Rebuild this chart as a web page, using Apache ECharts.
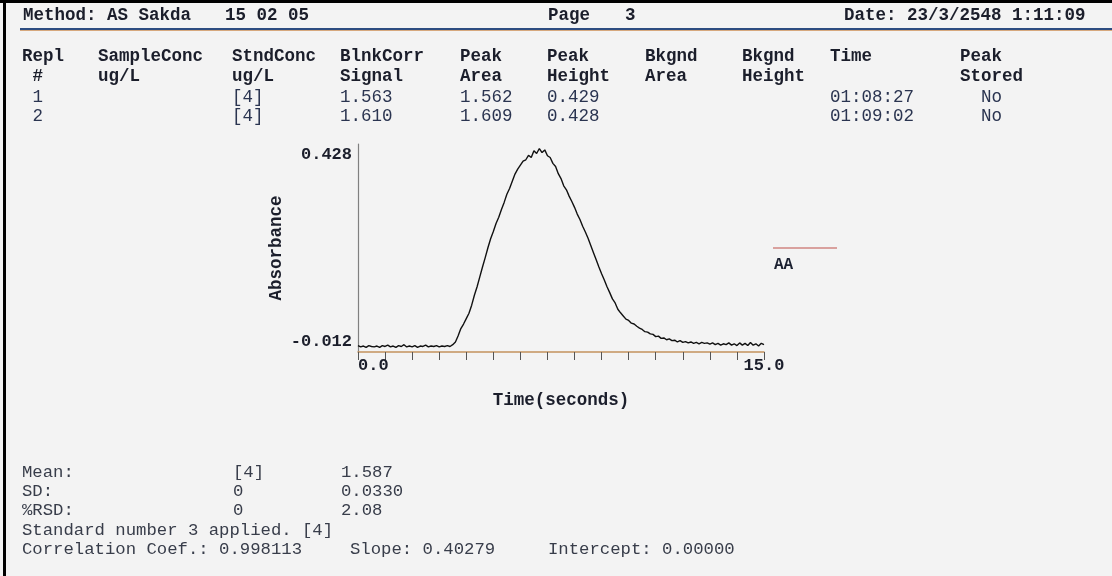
<!DOCTYPE html>
<html>
<head>
<meta charset="utf-8">
<script src="https://cdn.jsdelivr.net/npm/echarts@6/dist/echarts.min.js"></script>
<style>
html,body{margin:0;padding:0;background:#f3f3f3;}
#chart{width:1112px;height:576px;}
</style>
</head>
<body>
<div id="chart"></div>
<script>
// ---- data ----
const headerTexts = ['Method: AS Sakda', '15 02 05', 'Page', '3', 'Date: 23/3/2548 1:11:09'];
const tableHead1 = ['Repl', 'SampleConc', 'StndConc', 'BlnkCorr', 'Peak', 'Peak', 'Bkgnd', 'Bkgnd', 'Time', 'Peak'];
const tableHead2 = [' #', 'ug/L', 'ug/L', 'Signal', 'Area', 'Height', 'Area', 'Height', '', 'Stored'];
const replicate1 = [' 1', '', '[4]', '1.563', '1.562', '0.429', '', '', '01:08:27', '  No'];
const replicate2 = [' 2', '', '[4]', '1.610', '1.609', '0.428', '', '', '01:09:02', '  No'];
const statLabels = ['Mean:', 'SD:', '%RSD:'];
const statStnd = ['[4]', '0', '0'];
const statSignal = ['1.587', '0.0330', '2.08'];
const footerLine1 = 'Standard number 3 applied. [4]';
const footerLine2 = ['Correlation Coef.: 0.998113', 'Slope: 0.40279', 'Intercept: 0.00000'];

const yTickLabels = [-0.012, 0.428];
const xTickLabels = [0, 15];
const seriesName = 'AA';
const sampleStep = 0.1; // seconds between readings
const absorbance = [
 -0.010,-0.013,-0.011,-0.014,-0.010,-0.012,-0.013,-0.011,-0.014,-0.010,
 -0.012,-0.009,-0.013,-0.011,-0.014,-0.010,-0.012,-0.008,-0.013,-0.011,
 -0.013,-0.010,-0.014,-0.011,-0.012,-0.009,-0.013,-0.011,-0.012,-0.010,
 -0.013,-0.011,-0.012,-0.010,-0.012,-0.008,-0.002, 0.012, 0.028, 0.038,
  0.050, 0.062, 0.080, 0.102, 0.121, 0.143, 0.165, 0.186, 0.208, 0.228,
  0.244, 0.262, 0.276, 0.293, 0.309, 0.327, 0.340, 0.356, 0.372, 0.383,
  0.392, 0.401, 0.404, 0.414, 0.409, 0.424, 0.418, 0.429, 0.420, 0.426,
  0.413, 0.409, 0.396, 0.389, 0.373, 0.362, 0.346, 0.337, 0.323, 0.311,
  0.298, 0.283, 0.271, 0.256, 0.243, 0.229, 0.213, 0.197, 0.181, 0.165,
  0.150, 0.136, 0.121, 0.108, 0.094, 0.085, 0.071, 0.063, 0.056, 0.049,
  0.046, 0.040, 0.038, 0.033, 0.029, 0.026, 0.021, 0.020, 0.016, 0.015,
  0.010, 0.011, 0.006, 0.007, 0.003, 0.005, 0.001, 0.002,-0.002, 0.001,
 -0.003,-0.001,-0.004,-0.002,-0.005,-0.003,-0.006,-0.003,-0.005,-0.004,
 -0.007,-0.004,-0.008,-0.005,-0.009,-0.006,-0.008,-0.004,-0.009,-0.006,
 -0.010,-0.004,-0.009,-0.005,-0.010,-0.003,-0.009,-0.006,-0.011,-0.005,
 -0.008
];

// ---- layout / styles ----
const MONO = '"Liberation Mono", "DejaVu Sans Mono", monospace';
const BOLD = 'bold 17.5px ' + MONO;
const REG = '17.5px ' + MONO;
const REG_FOOT = '17.3px ' + MONO;
const INK = '#1b1e2b';
const INK_DATA = '#2a3450';
const INK_FOOT = '#383d4a';

const headerX = [23, 225, 548, 625, 844];
const colX = [22, 98, 232, 340, 460, 547, 645, 742, 830, 960];
const rowY = [57, 77, 97, 116];
const statY = [472, 491, 510];
const statX = [22, 233, 341];

const seriesData = absorbance.map((v, i) => [+(i * sampleStep).toFixed(1), v]);

function txt(x, y, s, font, fill) {
  return { type: 'text', x: x, y: y, silent: true,
    style: { text: s, font: font, fill: fill, verticalAlign: 'middle', align: 'left' } };
}

const graphics = [];
// page frame
graphics.push({ type: 'rect', shape: { x: 0, y: 0, width: 1112, height: 3 }, style: { fill: '#000' } });
graphics.push({ type: 'rect', shape: { x: 3, y: 0, width: 3, height: 576 }, style: { fill: '#000' } });
// header underline
graphics.push({ type: 'line', shape: { x1: 20, y1: 29, x2: 1112, y2: 29 }, style: { stroke: '#2d4c80', lineWidth: 2 } });
graphics.push({ type: 'line', shape: { x1: 20, y1: 30.5, x2: 1112, y2: 30.5 }, style: { stroke: '#c9874a', lineWidth: 1, opacity: 0.7 } });
headerTexts.forEach((s, i) => graphics.push(txt(headerX[i], 16, s, BOLD, INK)));
tableHead1.forEach((s, i) => graphics.push(txt(colX[i], rowY[0], s, BOLD, INK)));
tableHead2.forEach((s, i) => { if (s) graphics.push(txt(colX[i], rowY[1], s, BOLD, INK)); });
replicate1.forEach((s, i) => { if (s) graphics.push(txt(colX[i], rowY[2], s, REG, INK_DATA)); });
replicate2.forEach((s, i) => { if (s) graphics.push(txt(colX[i], rowY[3], s, REG, INK_DATA)); });
statLabels.forEach((s, i) => {
  graphics.push(txt(statX[0], statY[i], s, REG_FOOT, INK_FOOT));
  graphics.push(txt(statX[1], statY[i], statStnd[i], REG_FOOT, INK_FOOT));
  graphics.push(txt(statX[2], statY[i], statSignal[i], REG_FOOT, INK_FOOT));
});
graphics.push(txt(22, 530, footerLine1, REG_FOOT, INK_FOOT));
graphics.push(txt(22, 549, footerLine2[0], REG_FOOT, INK_FOOT));
graphics.push(txt(350, 549, footerLine2[1], REG_FOOT, INK_FOOT));
graphics.push(txt(548, 549, footerLine2[2], REG_FOOT, INK_FOOT));
// legend
graphics.push({ type: 'line', shape: { x1: 773, y1: 248, x2: 837, y2: 248 }, style: { stroke: '#c0504a', lineWidth: 1.2 } });
graphics.push(txt(774, 265, seriesName, 'bold 16px ' + MONO, '#1b2030'));

const option = {
  backgroundColor: '#f3f3f3',
  animation: false,
  grid: { left: 358, top: 144, width: 406, height: 208 },
  xAxis: {
    type: 'value', min: 0, max: 15, interval: 1,
    name: 'Time(seconds)', nameLocation: 'middle', nameGap: 40,
    nameTextStyle: { fontFamily: MONO, fontWeight: 'bold', fontSize: 17.5, color: INK },
    axisLine: { onZero: false, lineStyle: { color: '#c4925e', width: 1.5 } },
    axisTick: { show: true, inside: false, length: 8, lineStyle: { color: '#555', width: 1 } },
    splitLine: { show: false },
    axisLabel: {
      customValues: xTickLabels, margin: 5,
      alignMinLabel: 'left', alignMaxLabel: 'center',
      formatter: v => v.toFixed(1),
      fontFamily: MONO, fontWeight: 'bold', fontSize: 17, color: INK
    }
  },
  yAxis: {
    type: 'value', min: -0.0243, max: 0.4391,
    name: 'Absorbance', nameLocation: 'middle', nameGap: 72,
    nameTextStyle: { fontFamily: MONO, fontWeight: 'bold', fontSize: 17.5, color: INK },
    axisLine: { show: true, lineStyle: { color: '#808080', width: 1.2 } },
    axisTick: { show: false },
    splitLine: { show: false },
    axisLabel: {
      customValues: yTickLabels, margin: 6,
      formatter: v => (v > 0 ? '{hi|' + v.toFixed(3) + '}' : '{lo|' + v.toFixed(3) + '}'),
      rich: {
        hi: { fontFamily: MONO, fontWeight: 'bold', fontSize: 17, color: INK, padding: [12, 0, 0, 0] },
        lo: { fontFamily: MONO, fontWeight: 'bold', fontSize: 17, color: INK, padding: [0, 0, 9, 0] }
      }
    }
  },
  series: [{
    name: seriesName, type: 'line', data: seriesData,
    showSymbol: false, symbol: 'none',
    lineStyle: { color: '#111111', width: 1.4 },
    z: 3
  }],
  graphic: graphics
};

const chart = echarts.init(document.getElementById('chart'), null, { renderer: 'canvas' });
chart.setOption(option);
</script>
</body>
</html>
